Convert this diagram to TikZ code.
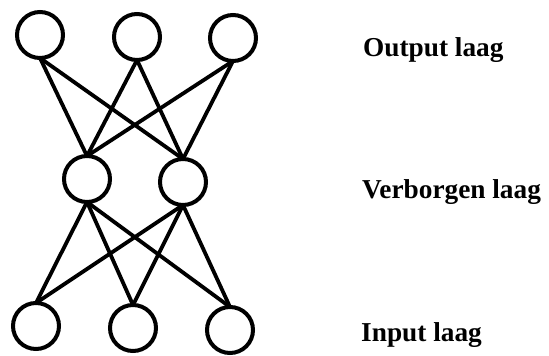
\documentclass[tikz,border=0pt]{standalone}
\usepackage{fontspec}
\setmainfont{Liberation Serif}
\begin{document}
\begin{tikzpicture}[x=1pt,y=-1pt,
  neuron/.style={circle,draw=black,line width=4pt,minimum size=46pt,inner sep=0pt,outer sep=0pt},
  conn/.style={line width=3.8pt,draw=black},
  lbl/.style={anchor=base west,inner sep=0pt,font=\bfseries\fontsize{27.3}{30}\selectfont}]
\useasboundingbox (0,0) rectangle (549,356);
% output layer
\node[neuron] (o1) at (40,35) {};
\node[neuron] (o2) at (137,37) {};
\node[neuron] (o3) at (233,38) {};
% hidden layer
\node[neuron] (h1) at (87,179) {};
\node[neuron] (h2) at (183,182) {};
% input layer
\node[neuron] (i1) at (36,326) {};
\node[neuron] (i2) at (133,328) {};
\node[neuron] (i3) at (230,330) {};
% connections
\foreach \o in {o1,o2,o3}{
  \foreach \h in {h1,h2}{
    \draw[conn] (\o.south) -- (\h.north);
  }
}
\foreach \h in {h1,h2}{
  \foreach \i in {i1,i2,i3}{
    \draw[conn] (\h.south) -- (\i.north);
  }
}
% labels
\node[lbl] (lo) at (363,56) {Output laag};
\node[lbl] (lh) at (362,198) {Verborgen laag};
\node[lbl] (li) at (361,341) {Input laag};
\end{tikzpicture}
\end{document}
